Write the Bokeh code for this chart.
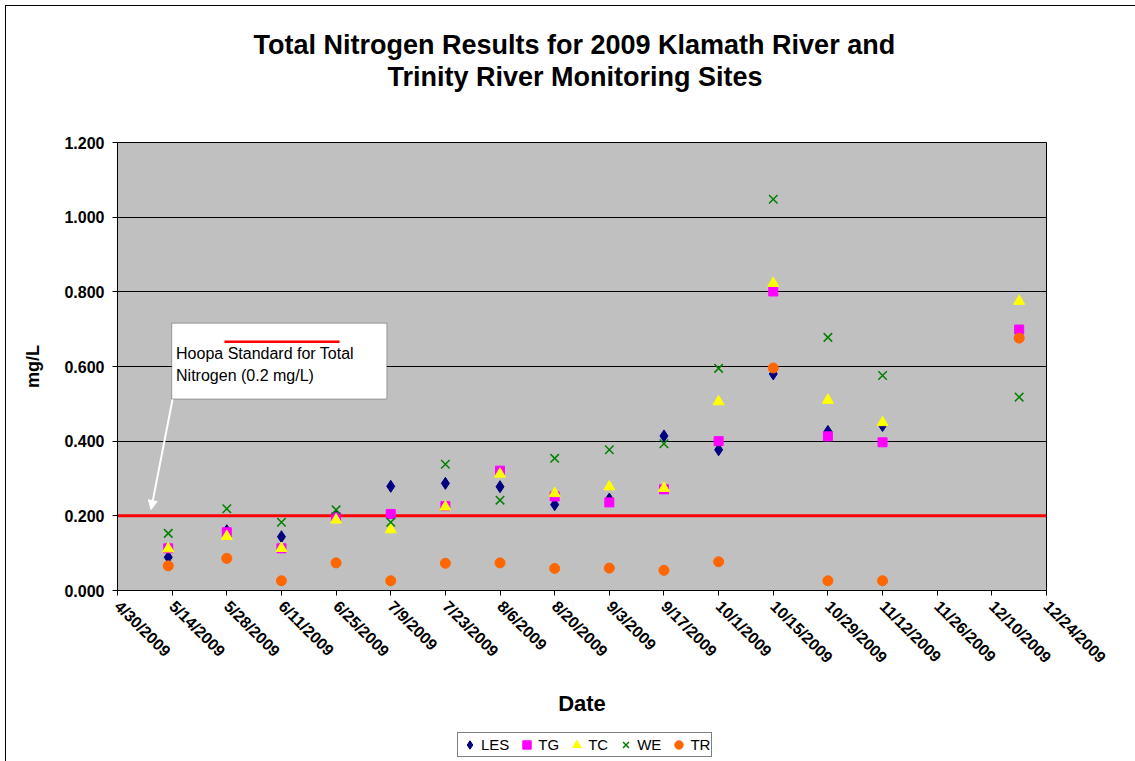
import math
import pandas as pd
from bokeh.plotting import figure
from bokeh.layouts import column
from bokeh.models import (Range1d, FixedTicker, PrintfTickFormatter, Span, BoxAnnotation,
                          Label, Arrow, NormalHead, Legend, LegendItem, ColumnDataSource, Title)
from bokeh.embed import file_html
from bokeh.resources import INLINE

# ---------------- data ----------------
sample_dates = ["5/13/2009", "5/28/2009", "6/11/2009", "6/25/2009", "7/9/2009", "7/23/2009",
                "8/6/2009", "8/20/2009", "9/3/2009", "9/17/2009", "10/1/2009", "10/15/2009",
                "10/29/2009", "11/12/2009", "12/17/2009"]
NAN = float("nan")
LES = [0.089, 0.160, 0.144, 0.200, 0.279, 0.287, 0.278, 0.230, 0.245, 0.414, 0.377, 0.580, 0.426, 0.442, NAN]
TG  = [0.113, 0.156, 0.113, 0.196, 0.205, 0.226, 0.321, 0.252, 0.236, 0.271, 0.400, 0.801, 0.413, 0.397, 0.699]
TC  = [0.112, 0.145, 0.113, 0.189, 0.163, 0.224, 0.312, 0.260, 0.278, 0.274, 0.506, 0.823, 0.510, 0.450, 0.775]
WE  = [0.153, 0.219, 0.183, 0.216, 0.183, 0.338, 0.242, 0.354, 0.377, 0.393, 0.595, 1.048, 0.678, 0.576, 0.518]
TR  = [0.066, 0.086, 0.026, 0.074, 0.026, 0.073, 0.074, 0.059, 0.060, 0.054, 0.077, 0.596, 0.026, 0.026, 0.676]

tick_labels = ["4/30/2009", "5/14/2009", "5/28/2009", "6/11/2009", "6/25/2009", "7/9/2009",
               "7/23/2009", "8/6/2009", "8/20/2009", "9/3/2009", "9/17/2009", "10/1/2009",
               "10/15/2009", "10/29/2009", "11/12/2009", "11/26/2009", "12/10/2009", "12/24/2009"]
y_ticks = [0.0, 0.2, 0.4, 0.6, 0.8, 1.0, 1.2]
hoopa_standard = 0.2

series_names = ["LES", "TG", "TC", "WE", "TR"]
title_lines = ["Total Nitrogen Results for 2009 Klamath River and", "Trinity River Monitoring Sites"]
note_lines = ["Hoopa Standard for Total", "Nitrogen (0.2 mg/L)"]

# ---------------- conversion to day numbers ----------------
start = pd.to_datetime(tick_labels[0], format="%m/%d/%Y")
def day_num(s):
    return (pd.to_datetime(s, format="%m/%d/%Y") - start).days

x_days = [day_num(d) for d in sample_dates]
tick_days = [day_num(t) for t in tick_labels]

src = ColumnDataSource(dict(x=x_days, LES=LES, TG=TG, TC=TC, WE=WE, TR=TR))

FONT = "Liberation Sans"
styles_spec = {
    "LES": dict(marker="diamond", size=12, fill_color="#000080", line_color="#000080"),
    "TG": dict(marker="square", size=9, fill_color="#FF00FF", line_color="#FF00FF"),
    "TC": dict(marker="triangle", size=11, fill_color="#FFFF00", line_color="#FFFF00"),
    "WE": dict(marker="x", size=12, line_color="#008000", line_width=1.5),
    "TR": dict(marker="circle", size=10, fill_color="#FF6600", line_color="#FF6600"),
}

main_bg = ("linear-gradient(black, black) 5px 5px / 1px 100% no-repeat, "
           "linear-gradient(black, black) 5px 5px / 100% 1px no-repeat, white")
leg_bg = "linear-gradient(black, black) 5px 0px / 1px 100% no-repeat, white"

p = figure(width=1135, height=730, output_backend="svg", toolbar_location=None,
           x_range=Range1d(tick_days[0], tick_days[-1]), y_range=Range1d(0, 1.2),
           min_border_left=117, min_border_right=89, min_border_top=142, min_border_bottom=140,
           background_fill_color="#C0C0C0", border_fill_alpha=0.0,
           styles={"background": main_bg})
p.title = None
p.outline_line_color = "black"
p.outline_line_width = 1

# axes
p.xaxis.ticker = FixedTicker(ticks=tick_days, minor_ticks=[])
p.xaxis.major_label_overrides = {d: lab for d, lab in zip(tick_days, tick_labels)}
p.xaxis.major_label_orientation = -math.pi / 4
p.yaxis.ticker = FixedTicker(ticks=y_ticks, minor_ticks=[])
p.yaxis.formatter = PrintfTickFormatter(format="%.3f")
for ax in (p.xaxis[0], p.yaxis[0]):
    ax.major_label_text_font = FONT
    ax.major_label_text_font_style = "bold"
    ax.major_label_text_font_size = "16px"
    ax.major_label_text_color = "black"
    ax.axis_line_color = "black"
    ax.major_tick_line_color = "black"
    ax.major_tick_in = 0
    ax.major_tick_out = 5
    ax.major_label_standoff = 8
    ax.axis_label_text_font = FONT
    ax.axis_label_text_font_style = "bold"
    ax.axis_label_text_color = "black"
p.xaxis.axis_label = "Date"
p.xaxis.axis_label_text_font_size = "22px"
p.xaxis.axis_label_standoff = 16
p.yaxis.axis_label = "mg/L"
p.yaxis.axis_label_text_font_size = "18px"
p.yaxis.axis_label_standoff = 18

p.xgrid.visible = False
p.ygrid.grid_line_color = "black"
p.ygrid.grid_line_width = 1
p.ygrid.ticker = FixedTicker(ticks=y_ticks)

# standard line
p.add_layout(Span(location=hoopa_standard, dimension="width", line_color="#FF0000",
                  line_width=3, level="underlay"))

# series
for name in series_names:
    p.scatter("x", name, source=src, **styles_spec[name])

# annotation box
p.add_layout(BoxAnnotation(left=13.9, right=69.0, top=0.716, bottom=0.513, fill_color="white",
                           fill_alpha=1.0, line_color="black", line_width=1, level="annotation"))
seg = p.segment(x0=[27.4], y0=[0.666], x1=[56.9], y1=[0.666], line_color="#FF0000", line_width=2.5)
seg.level = "overlay"
for txt, yy in zip(note_lines, [0.634, 0.576]):
    p.add_layout(Label(x=15.0, y=yy, text=txt, text_font=FONT, text_font_size="16px",
                       text_baseline="middle", text_align="left", text_color="black", level="overlay"))
p.add_layout(Arrow(x_start=14.1, y_start=0.512, x_end=8.6, y_end=0.217, line_color="white", line_width=2,
                   end=NormalHead(size=9, fill_color="white", line_color="white")))

# title: spacer next to the frame, then line 2, then line 1
p.add_layout(Title(text="\u00a0", text_font_size="1px", standoff=48), "above")
for txt, off in zip(reversed(title_lines), [270, 136]):
    p.add_layout(Title(text=txt, align="left", offset=off, text_font=FONT, text_font_size="27px",
                       text_font_style="bold", text_color="black", standoff=0), "above")

# legend strip below the chart (same data, drawn out of its view range)
p2 = figure(width=1135, height=31, output_backend="svg", toolbar_location=None,
            x_range=Range1d(0, 1), y_range=Range1d(10, 11),
            x_axis_location=None, y_axis_location=None,
            min_border_left=0, min_border_right=0, min_border_top=0, min_border_bottom=0,
            background_fill_alpha=0.0, border_fill_alpha=0.0, outline_line_color=None,
            styles={"background": leg_bg})
p2.title = None
p2.xgrid.visible = False
p2.ygrid.visible = False
leg_renderers = [p2.scatter("x", name, source=src, **styles_spec[name]) for name in series_names]

legend = Legend(items=[LegendItem(label=n, renderers=[r]) for n, r in zip(series_names, leg_renderers)],
                orientation="horizontal", location=(340, 4),
                label_text_font=FONT, label_text_font_size="15px", label_text_color="black",
                glyph_width=21, glyph_height=21, label_standoff=1, spacing=7, padding=1, margin=0,
                border_line_color="black", border_line_width=1, background_fill_color="white",
                background_fill_alpha=1.0, label_height=14)
p2.add_layout(legend)

layout = column(p, p2, spacing=0)
open("out.html", "w").write(file_html(layout, INLINE))
